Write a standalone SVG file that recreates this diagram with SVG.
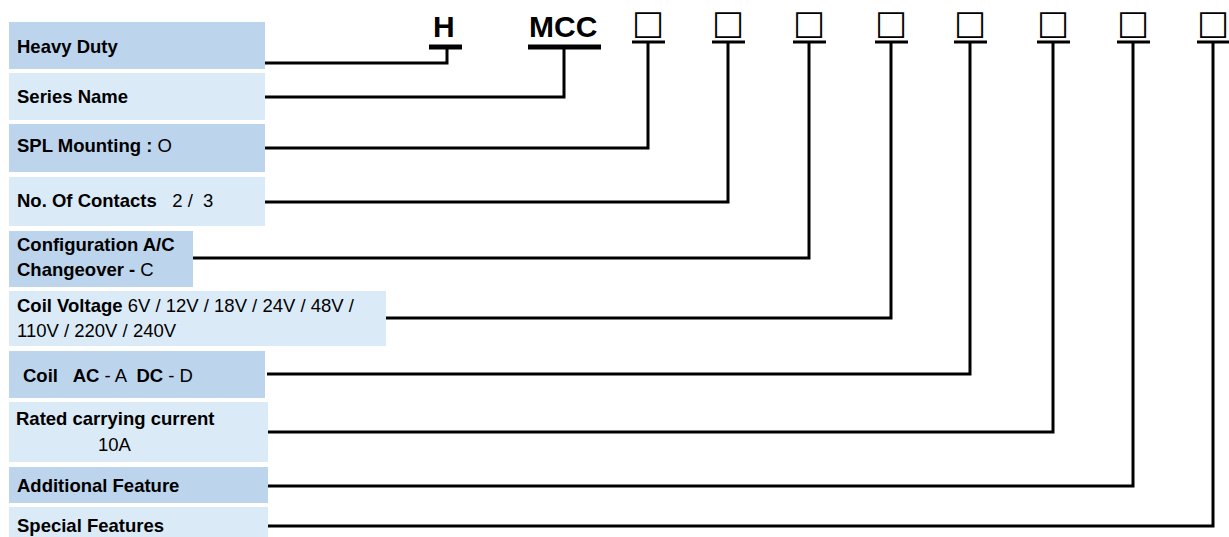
<svg xmlns="http://www.w3.org/2000/svg" width="1229" height="537" viewBox="0 0 1229 537">
<style>
.dk{fill:#BDD4ED}
.lt{fill:#DBEAF7}
.t{font-family:"Liberation Sans",Arial,sans-serif;font-size:18.5px;fill:#000}
.b{font-weight:bold}
.big{font-family:"Liberation Sans",Arial,sans-serif;font-size:30px;font-weight:bold;fill:#000}
.sq{font-family:"DejaVu Sans",sans-serif;font-size:34px;font-weight:bold;fill:#000;text-anchor:middle}
.c{fill:none;stroke:#000;stroke-width:3}
.bar{stroke:#000;stroke-width:3}
.hb{stroke:#000;stroke-width:5}
</style>
<rect width="1229" height="537" fill="#fff"/>
<g id="code">
<text class="big" x="433" y="37">H</text>
<line class="hb" x1="429" y1="47" x2="462" y2="47"/>
<text class="big" x="529" y="37">MCC</text>
<line class="hb" x1="528" y1="47" x2="601" y2="47"/>
<g id="slots">
<text class="sq" x="648" y="34">□</text><line class="bar" x1="632" y1="42" x2="665" y2="42"/>
<text class="sq" x="728" y="34">□</text><line class="bar" x1="712" y1="42" x2="745" y2="42"/>
<text class="sq" x="809" y="34">□</text><line class="bar" x1="793" y1="42" x2="826" y2="42"/>
<text class="sq" x="891" y="34">□</text><line class="bar" x1="875" y1="42" x2="908" y2="42"/>
<text class="sq" x="970" y="34">□</text><line class="bar" x1="954" y1="42" x2="987" y2="42"/>
<text class="sq" x="1053" y="34">□</text><line class="bar" x1="1037" y1="42" x2="1070" y2="42"/>
<text class="sq" x="1133" y="34">□</text><line class="bar" x1="1117" y1="42" x2="1150" y2="42"/>
<text class="sq" x="1213" y="34">□</text><line class="bar" x1="1197" y1="42" x2="1229" y2="42"/>
</g>
</g>
<g id="n1"><rect class="dk" x="9" y="22" width="256" height="47"/><text class="t b" x="17" y="53">Heavy Duty</text></g>
<g id="n2"><rect class="lt" x="9" y="73" width="256" height="47"/><text class="t b" x="17" y="103">Series Name</text></g>
<g id="n3"><rect class="dk" x="9" y="124" width="256" height="48"/><text class="t" x="17" y="152"><tspan class="b">SPL Mounting :</tspan> O</text></g>
<g id="n4"><rect class="lt" x="9" y="177" width="256" height="49"/><text class="t" x="17" y="207" xml:space="preserve"><tspan class="b">No. Of Contacts</tspan>   2 /  3</text></g>
<g id="n5"><rect class="dk" x="9" y="231" width="184" height="56"/><text class="t b" x="17" y="251">Configuration A/C</text><text class="t" x="17" y="276"><tspan class="b">Changeover -</tspan> C</text></g>
<g id="n6"><rect class="lt" x="9" y="291" width="377" height="55"/><text class="t" x="17" y="312"><tspan class="b">Coil Voltage</tspan> 6V / 12V / 18V / 24V / 48V /</text><text class="t" x="17" y="337">110V / 220V / 240V</text></g>
<g id="n7"><rect class="dk" x="9" y="351" width="256" height="47"/><text class="t" x="23" y="382" xml:space="preserve"><tspan class="b">Coil   AC</tspan> - A  <tspan class="b">DC</tspan> - D</text></g>
<g id="n8"><rect class="lt" x="9" y="402" width="259" height="60"/><text class="t b" x="16" y="425">Rated carrying current</text><text class="t" x="98" y="451">10A</text></g>
<g id="n9"><rect class="dk" x="9" y="467" width="259" height="36"/><text class="t b" x="17" y="492">Additional Feature</text></g>
<g id="n10"><rect class="lt" x="9" y="507" width="259" height="30"/><text class="t b" x="17" y="532">Special Features</text></g>
<g id="connectors">
<polyline class="c" points="265,63 447,63 447,47"/>
<polyline class="c" points="265,97 564,97 564,47"/>
<polyline class="c" points="265,148 648,148 648,42"/>
<polyline class="c" points="265,202 728,202 728,42"/>
<polyline class="c" points="193,258 809,258 809,42"/>
<polyline class="c" points="386,318 891,318 891,42"/>
<polyline class="c" points="267,374 970,374 970,42"/>
<polyline class="c" points="268,432 1053,432 1053,42"/>
<polyline class="c" points="268,486 1133,486 1133,42"/>
<polyline class="c" points="268,526 1213,526 1213,42"/>
</g>
</svg>
